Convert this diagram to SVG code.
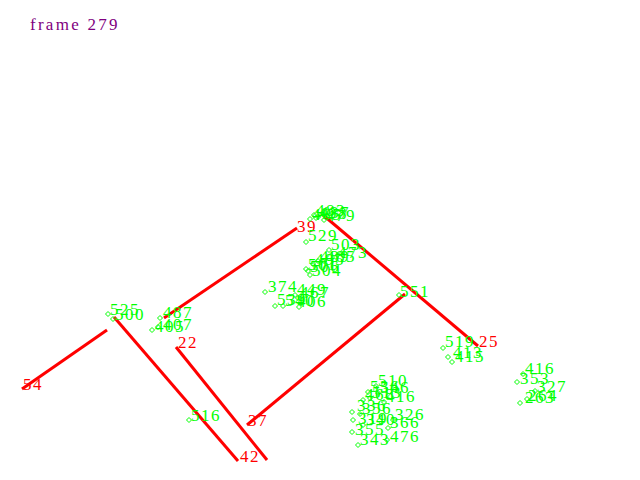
<svg xmlns="http://www.w3.org/2000/svg" xmlns:xlink="http://www.w3.org/1999/xlink" width="640" height="480" viewBox="0 0 640 480">
<style>
text{font-family:"Liberation Serif","Times New Roman",serif;font-size:17px;letter-spacing:1.5px}
.t{fill:#800080}
.r{fill:#ff0000}
.g{fill:#00ff00}
.e{stroke:#ff0000;stroke-width:3;fill:none}
.d{stroke:#00ff00;stroke-width:1;fill:none}
</style>
<defs>
<path id="dm" class="d" d="M0,-2.5 L2.5,0 L0,2.5 L-2.5,0 Z"/>
</defs>
<rect width="640" height="480" fill="#ffffff"/>
<text class="t" x="30" y="30" textLength="89" lengthAdjust="spacing">frame 279</text>
<g id="connectors">
<line class="e" x1="22" y1="389" x2="107" y2="330"/>
<line class="e" x1="114" y1="317" x2="238" y2="461"/>
<line class="e" x1="176" y1="347" x2="267" y2="460"/>
<line class="e" x1="247" y1="425" x2="405" y2="294"/>
<line class="e" x1="164" y1="318" x2="297" y2="228"/>
<line class="e" x1="323" y1="215" x2="478" y2="346"/>
</g>
<g id="red-labels">
<text class="r" x="23" y="390">54</text>
<text class="r" x="240" y="462">42</text>
<text class="r" x="248" y="426">37</text>
<text class="r" x="178" y="348">22</text>
<text class="r" x="297" y="232">39</text>
<text class="r" x="479" y="347">25</text>
</g>
<g id="green-labels">
<g id="n465"><use xlink:href="#dm" x="310" y="219"/><text class="g" x="312" y="220">465</text></g>
<g id="n483"><use xlink:href="#dm" x="314" y="215"/><text class="g" x="316" y="216">483</text></g>
<g id="n437"><use xlink:href="#dm" x="318" y="217"/><text class="g" x="320" y="218">437</text></g>
<g id="n498"><use xlink:href="#dm" x="316" y="218"/><text class="g" x="318" y="219">498</text></g>
<g id="n479"><use xlink:href="#dm" x="324" y="220"/><text class="g" x="326" y="221">479</text></g>
<g id="n529"><use xlink:href="#dm" x="306" y="242"/><text class="g" x="308" y="241">529</text></g>
<g id="n503"><use xlink:href="#dm" x="329" y="250"/><text class="g" x="331" y="250">503</text></g>
<g id="n473"><use xlink:href="#dm" x="336" y="257"/><text class="g" x="338" y="258">473</text></g>
<g id="n489"><use xlink:href="#dm" x="318" y="261"/><text class="g" x="320" y="262">489</text></g>
<g id="n485"><use xlink:href="#dm" x="324" y="261"/><text class="g" x="326" y="262">485</text></g>
<g id="n495"><use xlink:href="#dm" x="313" y="264"/><text class="g" x="315" y="265">495</text></g>
<g id="n506"><use xlink:href="#dm" x="308" y="271"/><text class="g" x="310" y="272">506</text></g>
<g id="n501"><use xlink:href="#dm" x="306" y="269"/><text class="g" x="308" y="270">501</text></g>
<g id="n564"><use xlink:href="#dm" x="310" y="275"/><text class="g" x="312" y="276">504</text></g>
<g id="n374"><use xlink:href="#dm" x="265" y="292"/><text class="g" x="268" y="292">374</text></g>
<g id="n449"><use xlink:href="#dm" x="295" y="295"/><text class="g" x="297" y="295">449</text></g>
<g id="n467"><use xlink:href="#dm" x="298" y="298"/><text class="g" x="300" y="298">467</text></g>
<g id="n539"><use xlink:href="#dm" x="275" y="306"/><text class="g" x="277" y="305">539</text></g>
<g id="n540"><use xlink:href="#dm" x="283" y="306"/><text class="g" x="285" y="306">540</text></g>
<g id="n406"><use xlink:href="#dm" x="299" y="307"/><text class="g" x="297" y="307">406</text></g>
<g id="n525"><use xlink:href="#dm" x="108" y="314"/><text class="g" x="110" y="315">525</text></g>
<g id="n500"><use xlink:href="#dm" x="113" y="319"/><text class="g" x="115" y="320">500</text></g>
<g id="n487"><use xlink:href="#dm" x="160" y="318"/><text class="g" x="163" y="318">487</text></g>
<g id="n405"><use xlink:href="#dm" x="152" y="330"/><text class="g" x="155" y="332">405</text></g>
<g id="n407"><use xlink:href="#dm" x="158" y="327"/><text class="g" x="163" y="330">407</text></g>
<g id="n516"><use xlink:href="#dm" x="189" y="420"/><text class="g" x="191" y="421">516</text></g>
<g id="n551"><use xlink:href="#dm" x="399" y="295"/><text class="g" x="400" y="297">551</text></g>
<g id="n510"><use xlink:href="#dm" x="376" y="386"/><text class="g" x="378" y="386">510</text></g>
<g id="n536"><use xlink:href="#dm" x="368" y="392"/><text class="g" x="370" y="392">536</text></g>
<g id="n546"><use xlink:href="#dm" x="378" y="393"/><text class="g" x="380" y="393">546</text></g>
<g id="n468"><use xlink:href="#dm" x="363" y="400"/><text class="g" x="365" y="400">468</text></g>
<g id="n513"><use xlink:href="#dm" x="370" y="398"/><text class="g" x="372" y="398">513</text></g>
<g id="n416b"><use xlink:href="#dm" x="384" y="402"/><text class="g" x="386" y="402">416</text></g>
<g id="n336"><use xlink:href="#dm" x="352" y="412"/><text class="g" x="357" y="411">336</text></g>
<g id="n356"><use xlink:href="#dm" x="360" y="414"/><text class="g" x="362" y="414">356</text></g>
<g id="n326"><use xlink:href="#dm" x="393" y="420"/><text class="g" x="395" y="420">326</text></g>
<g id="n319"><use xlink:href="#dm" x="353" y="420"/><text class="g" x="358" y="424">319</text></g>
<g id="n340"><use xlink:href="#dm" x="363" y="425"/><text class="g" x="366" y="425">340</text></g>
<g id="n366"><use xlink:href="#dm" x="388" y="428"/><text class="g" x="390" y="428">366</text></g>
<g id="n355"><use xlink:href="#dm" x="352" y="432"/><text class="g" x="355" y="435">355</text></g>
<g id="n476"><use xlink:href="#dm" x="387" y="440"/><text class="g" x="390" y="442">476</text></g>
<g id="n343"><use xlink:href="#dm" x="358" y="445"/><text class="g" x="360" y="445">343</text></g>
<g id="n519"><use xlink:href="#dm" x="443" y="348"/><text class="g" x="445" y="347">519</text></g>
<g id="n413"><use xlink:href="#dm" x="448" y="357"/><text class="g" x="453" y="358">413</text></g>
<g id="n415"><use xlink:href="#dm" x="452" y="362"/><text class="g" x="455" y="362">415</text></g>
<g id="n416"><use xlink:href="#dm" x="523" y="374"/><text class="g" x="525" y="374">416</text></g>
<g id="n353"><use xlink:href="#dm" x="517" y="382"/><text class="g" x="520" y="384">353</text></g>
<g id="n327"><use xlink:href="#dm" x="535" y="391"/><text class="g" x="537" y="392">327</text></g>
<g id="n263"><use xlink:href="#dm" x="520" y="403"/><text class="g" x="525" y="403">263</text></g>
<g id="n264"><use xlink:href="#dm" x="527" y="399"/><text class="g" x="528" y="401">264</text></g>
</g>
</svg>
